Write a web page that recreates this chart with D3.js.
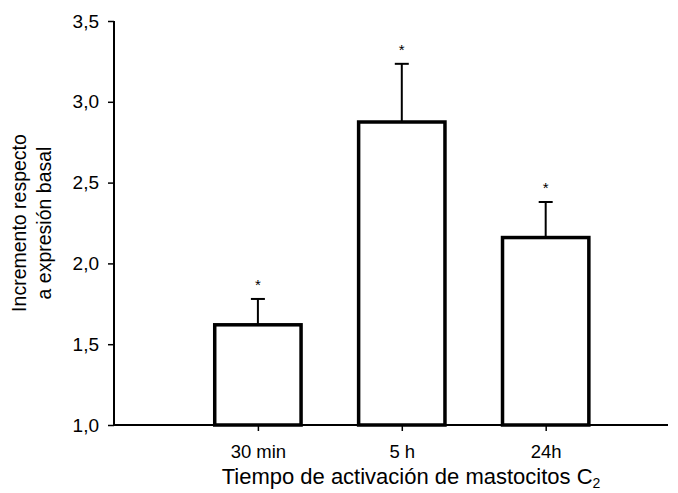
<!DOCTYPE html>
<html>
<head>
<meta charset="utf-8">
<script src="https://cdn.jsdelivr.net/npm/d3@7"></script>
<style>
  body { margin: 0; background: #fff; }
  text { font-family: "Liberation Sans", Arial, sans-serif; fill: #000; }
</style>
</head>
<body>
<svg width="678" height="493"></svg>
<script>
// data
const categories = ["30 min", "5 h", "24h"];
const means = [1.62, 2.875, 2.16];
const errors = [0.16, 0.36, 0.22];
const marks = ["*", "*", "*"];
const yTicks = [1.0, 1.5, 2.0, 2.5, 3.0, 3.5];

const svg = d3.select("svg");

const plotLeft = 114, plotRight = 668, plotTop = 21, plotBottom = 425;

// slot positions 1..3, axis runs a bit past the last bar
const x = d3.scaleLinear().domain([0, 3.85]).range([plotLeft, plotRight]);
const y = d3.scaleLinear().domain([1, 3.5]).range([plotBottom, plotTop]);
const barW = 0.6;

const fmt = d => d3.format(".1f")(d).replace(".", ",");

// y axis
const yAxis = svg.append("g")
    .attr("transform", `translate(${plotLeft},0)`)
    .call(d3.axisLeft(y).tickValues(yTicks).tickFormat(fmt).tickSize(6).tickPadding(9));
yAxis.select(".domain").attr("stroke-width", 2).attr("d", `M0,${plotTop}V${plotBottom}`);
yAxis.selectAll(".tick line").attr("stroke-width", 1.5);
yAxis.selectAll(".tick text").style("font-size", "19px").style("font-family", "Liberation Sans, Arial, sans-serif");

// x axis
const xAxis = svg.append("g")
    .attr("transform", `translate(0,${plotBottom})`)
    .call(d3.axisBottom(x).tickValues([1, 2, 3]).tickFormat(i => categories[i - 1]).tickSize(6).tickPadding(14));
xAxis.select(".domain").attr("stroke-width", 2).attr("d", `M${plotLeft},0H${plotRight}`);
xAxis.selectAll(".tick line").attr("stroke-width", 1.5);
xAxis.selectAll(".tick text").style("font-size", "18.5px").style("font-family", "Liberation Sans, Arial, sans-serif");

const idx = means.map((d, i) => i);

// error bars (upper only)
svg.selectAll("line.err")
    .data(idx)
    .enter().append("line")
    .attr("class", "err")
    .attr("x1", i => x(i + 1)).attr("x2", i => x(i + 1))
    .attr("y1", i => y(means[i])).attr("y2", i => y(means[i] + errors[i]))
    .attr("stroke", "#000").attr("stroke-width", 2);

svg.selectAll("line.cap")
    .data(idx)
    .enter().append("line")
    .attr("class", "cap")
    .attr("x1", i => x(i + 1) - 7).attr("x2", i => x(i + 1) + 7)
    .attr("y1", i => y(means[i] + errors[i])).attr("y2", i => y(means[i] + errors[i]))
    .attr("stroke", "#000").attr("stroke-width", 2);

// bars
svg.selectAll("rect.bar")
    .data(idx)
    .enter().append("rect")
    .attr("class", "bar")
    .attr("x", i => x(i + 1 - barW / 2))
    .attr("width", i => x(i + 1 + barW / 2) - x(i + 1 - barW / 2))
    .attr("y", i => y(means[i]))
    .attr("height", i => y(1) - y(means[i]))
    .attr("fill", "#fff")
    .attr("stroke", "#000")
    .attr("stroke-width", 3.5);

// significance marks
svg.selectAll("text.mark")
    .data(idx)
    .enter().append("text")
    .attr("class", "mark")
    .attr("x", i => x(i + 1))
    .attr("y", i => y(means[i] + errors[i]) - 9)
    .attr("text-anchor", "middle")
    .style("font-size", "15px")
    .text(i => marks[i]);

// x title with subscript
const xt = svg.append("text")
    .attr("x", 411).attr("y", 484)
    .attr("text-anchor", "middle")
    .style("font-size", "22px");
xt.append("tspan").text("Tiempo de activación de mastocitos C");
xt.append("tspan").attr("dy", 4).style("font-size", "14px").text("2");

// y title, two lines
const yt = svg.append("text")
    .attr("transform", "translate(25.5,223) rotate(-90)")
    .attr("text-anchor", "middle")
    .style("font-size", "19.5px");
yt.append("tspan").attr("x", 0).attr("y", 0).text("Incremento respecto");
yt.append("tspan").attr("x", 0).attr("y", 25).text("a expresión basal");
</script>
</body>
</html>
